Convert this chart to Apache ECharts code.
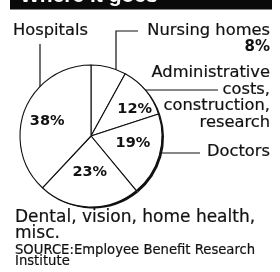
<!DOCTYPE html>
<html>
<head>
<meta charset="utf-8">
<script src="https://cdn.jsdelivr.net/npm/echarts@6/dist/echarts.min.js"></script>
<style>
  html, body { margin: 0; padding: 0; background: #fff; }
  #chart { width: 280px; height: 272px; }
</style>
</head>
<body>
<div id="chart"></div>
<script>
// where the health dollar goes, clockwise from 12 o'clock
const categories = ['Nursing homes', 'Administrative costs, construction, research', 'Doctors', 'Dental, vision, home health, misc.', 'Hospitals'];
const shares = [8, 12, 19, 23, 38];

const title = 'Where it goes';
const source = ['SOURCE:Employee Benefit Research', 'Institute'];

// small nudges so the inside percentages sit where the print has them
const labelNudge = [[0, 0], [14, -2], [5, -4], [0, -2], [-8, -1]];

const ink = '#111';
const font = '16.3px "DejaVu Sans"';

const chart = echarts.init(document.getElementById('chart'), null, { renderer: 'canvas' });

const pieData = categories.map((name, i) => ({
    name,
    value: shares[i],
    label: { show: i !== 0 }
}));

const txt = (text, x, y, align, f, weight) => ({
    type: 'text',
    silent: true,
    style: {
        text, x, y,
        font: f || font,
        fill: ink,
        stroke: ink,
        lineWidth: weight == null ? 0.2 : weight,
        align, textAlign: align,
        verticalAlign: 'middle', textVerticalAlign: 'middle'
    }
});
const line = (points, w) => ({
    type: 'polyline',
    silent: true,
    shape: { points },
    style: { stroke: ink, lineWidth: w || 1.2, fill: null }
});

chart.setOption({
    animation: false,
    backgroundColor: '#fff',
    series: [
        {
            // dark rim on the lower right
            type: 'pie',
            silent: true,
            center: [93, 137.5],
            radius: 71,
            startAngle: 90,
            label: { show: false },
            labelLine: { show: false },
            itemStyle: { color: ink, borderWidth: 0 },
            emphasis: { disabled: true },
            data: shares.map((v, i) => ({ name: categories[i], value: v }))
        },
        {
            type: 'pie',
            center: [91, 136],
            radius: 71,
            startAngle: 90,
            clockwise: true,
            itemStyle: { color: '#fff', borderColor: ink, borderWidth: 1.1 },
            emphasis: { disabled: true },
            label: {
                show: true,
                position: 'inside',
                formatter: '{c}%',
                color: ink,
                fontFamily: 'DejaVu Sans',
                fontWeight: 'bold',
                fontSize: 14.5
            },
            labelLine: { show: false },
            labelLayout: (p) => ({ dx: labelNudge[p.dataIndex][0], dy: labelNudge[p.dataIndex][1] }),
            data: pieData
        }
    ],
    graphic: [
        { type: 'rect', silent: true, shape: { x: 10, y: -2, width: 262, height: 11.5 }, style: { fill: '#0a0a0a' } },
        {
            type: 'text', silent: true,
            style: { text: title, x: 20, y: -4, font: 'bold 21px "Liberation Sans"', fill: '#fff',
                     align: 'left', textAlign: 'left', verticalAlign: 'middle', textVerticalAlign: 'middle' }
        },

        txt('Hospitals', 13, 30.5, 'left'),
        line([[40, 44], [40, 93]]),

        txt('Nursing homes', 270, 31, 'right'),
        txt(shares[0] + '%', 270, 47, 'right', 'bold 15px "DejaVu Sans"', 0),
        line([[138, 31], [116, 31], [116, 79]]),

        txt('Administrative', 270, 73, 'right'),
        txt('costs,', 270, 89.5, 'right'),
        txt('construction,', 270, 106, 'right'),
        txt('research', 270, 122.5, 'right'),
        line([[138, 90], [218, 90]]),

        txt('Doctors', 270, 152, 'right'),
        line([[150, 153], [200, 153]]),

        txt('Dental, vision, home health,', 15, 217.5, 'left', '17px "DejaVu Sans"'),
        txt('misc.', 15, 233.5, 'left', '17px "DejaVu Sans"'),
        line([[88, 186], [88, 205]]),

        txt(source[0], 15, 251, 'left', '13.2px "DejaVu Sans"', 0.2),
        txt(source[1], 15, 262, 'left', '13.2px "DejaVu Sans"', 0.2)
    ]
});
</script>
</body>
</html>
